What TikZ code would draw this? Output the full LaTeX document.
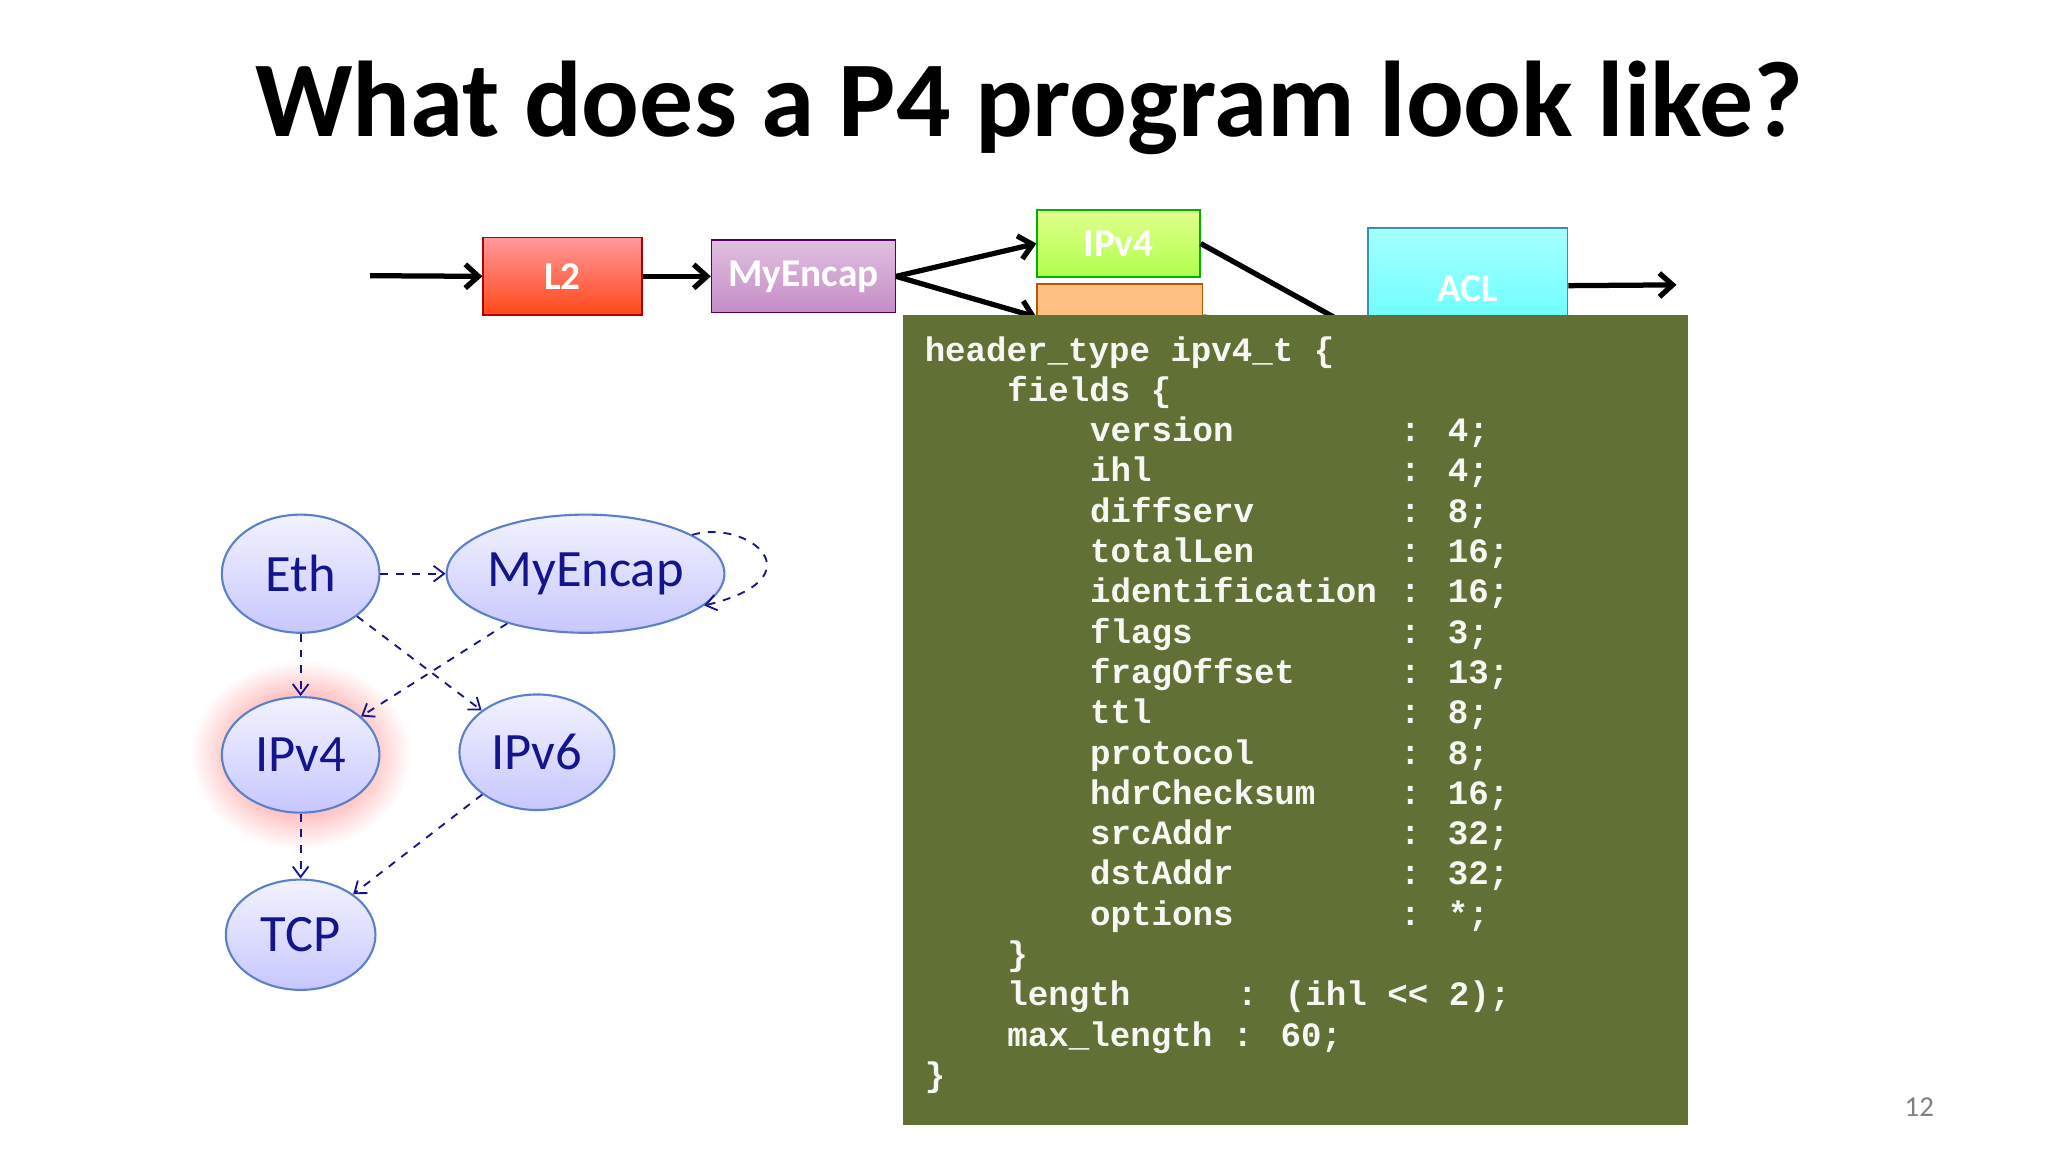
\documentclass[tikz,border=0pt]{standalone}
\usepackage{fontspec}
\setmainfont{Carlito}
\newfontfamily\codefont{Liberation Mono}
\usetikzlibrary{arrows.meta,calc}
\definecolor{olive}{HTML}{617135}
\definecolor{navy}{HTML}{14148C}
\definecolor{ebord}{HTML}{5B7FC8}
\tikzset{
 flow/.style={line width=2pt,-{Straight Barb[length=5pt,width=9pt]}},
 stage/.style={draw=#1!70!black,line width=0.6pt,minimum height=29.5pt,inner sep=0pt,text=white,font=\bfseries\fontsize{15}{15}\selectfont},
 ell/.style={ellipse,draw=ebord,line width=0.8pt,top color=blue!5,bottom color=blue!22,text=navy,font=\fontsize{20}{20}\selectfont,inner sep=0pt},
 dep/.style={navy,dashed,line width=0.7pt,-{Straight Barb[length=4pt,width=6pt]}},
 code/.style={anchor=base west,inner sep=0pt,text=white!94!olive,font=\codefont\bfseries\fontsize{13}{13}\selectfont},
}
\usetikzlibrary{shapes.geometric}
\begin{document}
\begin{tikzpicture}[x=0.5pt,y=-0.5pt]
\useasboundingbox (0,0) rectangle (1560,877.5);
\fill[white] (0,0) rectangle (1560,877.5);
\node[font=\bfseries\fontsize{41}{41}\selectfont] (title) at (784,82) {What does a P4 program look like?};
% pipeline
\node[stage=red,minimum width=60.5pt,top color=red!40,bottom color=red!60!orange!90] (l2) at (428.5,210.5) {L2};
\node[stage=violet,minimum width=70pt,minimum height=27.5pt,top color=violet!25,bottom color=violet!45] (enc) at (612,210.5) {MyEncap};
\node[stage=green,minimum width=62pt,minimum height=25.5pt,top color=green!25!yellow!45,bottom color=green!45!yellow!70] (ip4) at (852,185.5) {IPv4};
\node[stage=orange,minimum width=63pt,minimum height=25pt,fill=orange!50] (ip6) at (853,241.5) {};
\node[stage=cyan,minimum width=76pt,minimum height=40pt,top color=cyan!35,bottom color=cyan!60,anchor=north] (acl) at (1118,173) {};
\node[text=white,font=\bfseries\fontsize{15}{15}\selectfont] (acltxt) at (1118,220) {ACL};
\coordinate (in) at (282,210);
\coordinate (out) at (1277,217);
\draw[flow] (in) -- (l2.west);
\draw[flow] (l2.east) -- (enc.west);
\draw[flow] (enc.east) -- (ip4.west);
\draw[flow] (enc.east) -- (ip6.west);
\draw[flow] (ip4.east) -- ($(acl.west)+(0,42)$);
\draw[flow] (ip6.east) -- ($(acl.west)+(0,42)$);
\draw[flow] ($(acl.east)+(0,4)$) -- (out);
% code box
\fill[olive] (688,240) rectangle (1286,857);
\node[code] (c0) at (704,275) {header\_type ipv4\_t \{};
\node[code] (c1) at (767,305.5) {fields \{};
\foreach \n/\v [count=\i from 2] in {version/4;,ihl/4;,diffserv/8;,totalLen/16;,identification/16;,flags/3;,fragOffset/13;,ttl/8;,protocol/8;,hdrChecksum/16;,srcAddr/32;,dstAddr/32;,options/*;}{
 \node[code] (n\i) at (830,275+\i*30.7) {\n};
 \node[code] (v\i) at (1066,275+\i*30.7) {: \v};
}
\node[code] (c15) at (767,275+15*30.7) {\}};
\node[code] (c16) at (767,275+16*30.7) {length};
\node[code] (c16b) at (942,275+16*30.7) {: (ihl << 2);};
\node[code] (c17) at (767,275+17*30.7) {max\_length : 60;};
\node[code] (c18) at (704,275+18*30.7) {\}};
% graph
\shade[inner color=red!65,outer color=white] (229,575) ellipse (84 and 72);
\node[ell,minimum width=60pt,minimum height=45pt] (eth) at (229,437) {Eth};
\node[ell,minimum width=96pt,minimum height=45pt] (menc) at (446,437) {MyEncap};
\node[ell,minimum width=60pt,minimum height=44pt] (gip4) at (229,575) {IPv4};
\node[ell,minimum width=59pt,minimum height=44pt] (gip6) at (409,573) {IPv6};
\node[ell,minimum width=57pt,minimum height=42pt] (tcp) at (229,712) {TCP};
\draw[dep] (eth) -- (menc);
\draw[dep] (eth) -- (gip4);
\draw[dep] (eth) -- (gip6);
\draw[dep] (menc) -- (gip4);
\draw[dep] (gip4) -- (tcp);
\draw[dep] (gip6) -- (tcp);
\draw[dep] (menc.20) .. controls (570,395) and (625,440) .. (menc.-15);
\node[text=gray,font=\fontsize{11}{11}\selectfont] (pg) at (1462,843) {12};
\end{tikzpicture}
\end{document}
